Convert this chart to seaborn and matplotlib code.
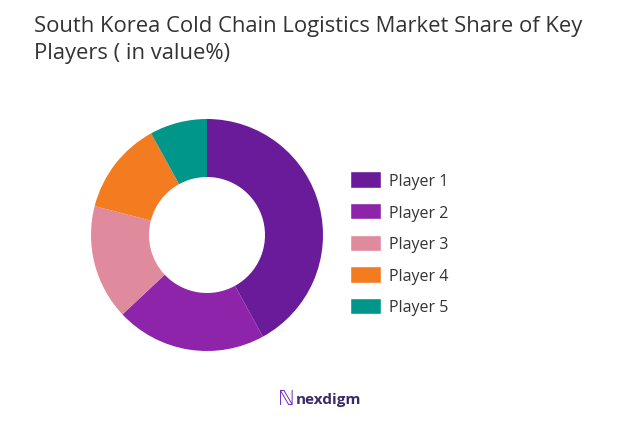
import matplotlib
matplotlib.use("Agg")
import matplotlib.pyplot as plt
import seaborn as sns
from matplotlib.patches import Patch

sns.set_theme(style="white")
plt.rcParams['font.family'] = ['Open Sans', 'DejaVu Sans']

players = ["Player 1", "Player 2", "Player 3", "Player 4", "Player 5"]
shares = [42, 21, 16, 13, 8]
colors = ["#6A1B9A", "#8E24AA", "#E08A9E", "#F47C20", "#00968A"]

fig = plt.figure(figsize=(6.17, 4.39), dpi=100)
fig.patch.set_facecolor("white")
ax = fig.add_axes([(207 - 116) / 617, (439 - 236 - 116) / 439, 232 / 617, 232 / 439])
ax.pie(shares, colors=colors, startangle=90, counterclock=False,
       wedgeprops=dict(width=0.5, edgecolor="none"))
ax.set_xlim(-1, 1)
ax.set_ylim(-1, 1)
ax.set_aspect("equal")
ax.axis("off")

fig.text(34 / 617, 1 - 40 / 439, "South Korea Cold Chain Logistics Market Share of Key\nPlayers ( in value%)",
         fontsize=15.8, color="#333333", va="center", ha="left", linespacing=1.4)

handles = [Patch(facecolor=c, label=p) for c, p in zip(colors, players)]
fig.legend(handles=handles, loc="upper left", bbox_to_anchor=(336 / 617, 1 - 158 / 439),
           frameon=False, fontsize=11.5, handlelength=1.9, handleheight=1.2,
           handletextpad=0.5, labelspacing=0.88, labelcolor="#333333")

fig.text(286 / 617, 1 - 400 / 439, "\u2115", fontsize=15, color="#7B2FBE", ha="center", va="center")
fig.text(296 / 617, 1 - 400 / 439, "nexdigm", fontsize=11, color="#3a2a6a", ha="left", va="center", fontweight="bold")

fig.savefig("out.png", dpi=100, facecolor="white")
